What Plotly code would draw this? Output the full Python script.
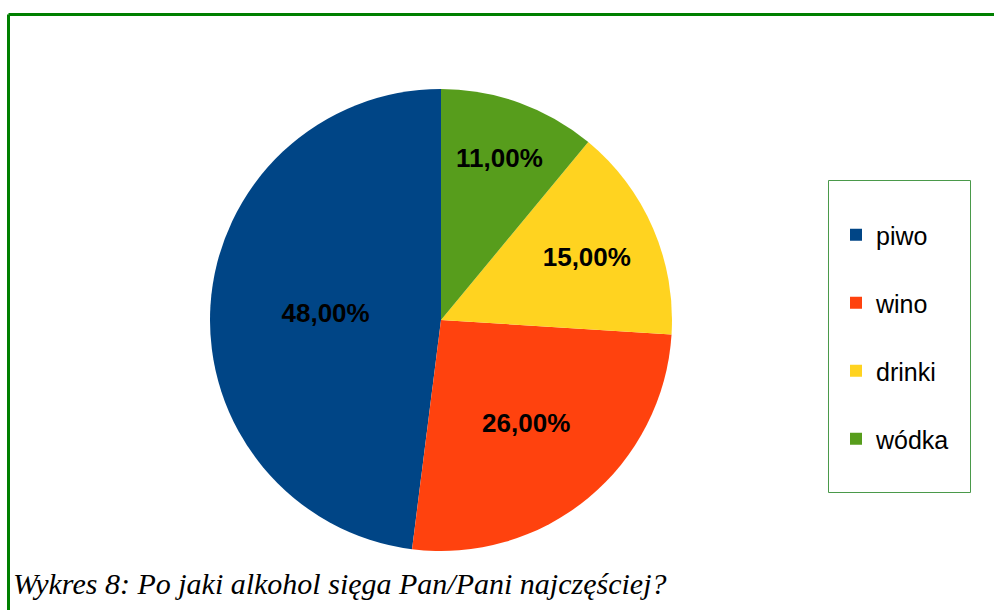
import plotly.graph_objects as go

labels = ["piwo", "wino", "drinki", "wódka"]
values = [48, 26, 15, 11]
colors = ["#004586", "#ff420e", "#ffd320", "#579d1c"]
caption = "Wykres 8: Po jaki alkohol sięga Pan/Pani najczęściej?"

W, H = 994, 610
def px(x): return x / W
def py(y): return 1 - y / H

# legend labels get an empty second line to reproduce the wide item spacing
legend_labels = [l + "<br> " for l in labels]

# plotly's counterclockwise pies end the first slice at `rotation`; shift so piwo starts at 12 o'clock
rotation = -360 * values[0] / sum(values)

fig = go.Figure(go.Pie(
    labels=legend_labels,
    values=values,
    sort=False,
    direction="counterclockwise",
    rotation=rotation,
    marker=dict(colors=colors, line=dict(width=0)),
    texttemplate=[f"{v:.2f}".replace(".", ",") + "%" for v in values],
    textinfo="text",
    textposition="inside",
    insidetextorientation="horizontal",
    textfont=dict(family="Liberation Sans", size=26, color="black", weight="bold"),
    hovertemplate="%{value}%<extra></extra>",
    domain=dict(x=[px(210), px(672)], y=[py(551), py(89)]),
))

fig.update_layout(
    width=W, height=H,
    autosize=False,
    margin=dict(l=0, r=0, t=0, b=0),
    paper_bgcolor="white",
    plot_bgcolor="white",
    showlegend=True,
    legend=dict(
        x=px(836), y=py(212), xanchor="left", yanchor="top",
        font=dict(family="Liberation Sans", size=25, color="black"),
        valign="top",
        bgcolor="rgba(0,0,0,0)",
        borderwidth=0,
        itemclick=False, itemdoubleclick=False,
    ),
    shapes=[
        dict(type="line", xref="paper", yref="paper", x0=px(8.5), x1=px(1000), y0=py(14.5), y1=py(14.5),
             line=dict(color="#008000", width=3)),
        dict(type="line", xref="paper", yref="paper", x0=px(8.5), x1=px(8.5), y0=py(14.5), y1=py(620),
             line=dict(color="#008000", width=3)),
        dict(type="rect", xref="paper", yref="paper", x0=px(828.5), x1=px(970.5), y0=py(180.5), y1=py(492.5),
             line=dict(color="#4a994a", width=1)),
    ],
    annotations=[
        dict(text=caption, xref="paper", yref="paper", x=px(11), y=py(583), xanchor="left", yanchor="middle",
             showarrow=False, font=dict(family="Liberation Serif", size=30, color="black", style="italic")),
    ],
)

fig.write_html("out.html", config={"displayModeBar": False},
               post_script="document.body.style.margin='0';")
